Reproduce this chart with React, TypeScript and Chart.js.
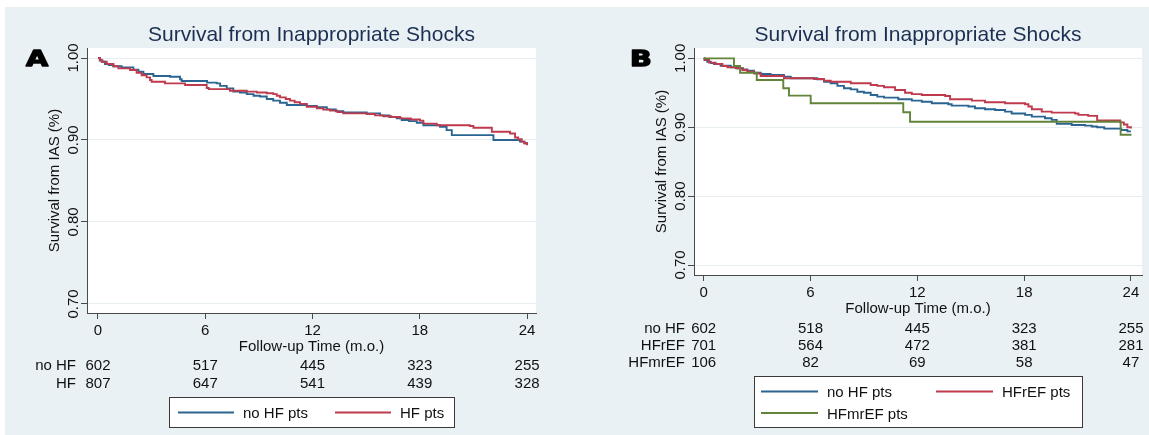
import React, { useEffect, useRef } from "react";
import { Chart, registerables } from "chart.js";

Chart.register(...registerables);

// ---------- data ----------
const monthTicks = [0, 6, 12, 18, 24];
const survivalTicks = [0.7, 0.8, 0.9, 1.0];
const chartTitle = "Survival from Inappropriate Shocks";
const xAxisTitle = "Follow-up Time (m.o.)";
const yAxisTitle = "Survival from IAS (%)";

// Panel A: [months, survival]
const aNoHfCurve: [number, number][] = [
  [0, 1], [0.1, 0.997], [0.25, 0.9955], [0.39, 0.9927], [0.6, 0.9915], [0.86, 0.99],
  [1.32, 0.9886], [1.98, 0.9858], [2.26, 0.9833], [2.54, 0.9805], [3.1, 0.978],
  [4.03, 0.9772], [4.59, 0.974], [4.68, 0.972], [6.1, 0.970], [6.64, 0.969],
  [6.83, 0.966], [7.2, 0.963], [7.57, 0.959], [7.94, 0.958], [8.32, 0.956],
  [8.7, 0.954], [9.06, 0.953], [9.44, 0.95], [9.8, 0.948], [10.18, 0.9455],
  [10.56, 0.9427], [11.68, 0.9415], [12.24, 0.94], [12.8, 0.9374], [13.3, 0.935],
  [13.72, 0.9337], [15.03, 0.9325], [15.78, 0.93], [16.3, 0.928], [16.71, 0.9264],
  [16.99, 0.9244], [17.4, 0.923], [17.83, 0.921], [18.2, 0.918], [19.13, 0.916],
  [19.5, 0.912], [19.79, 0.906], [22.12, 0.9], [23.6, 0.898], [23.85, 0.896],
  [24.0, 0.894],
];
const aHfCurve: [number, number][] = [
  [0, 1], [0.1, 0.998], [0.2, 0.9955], [0.49, 0.9927], [0.86, 0.99], [1.14, 0.9874],
  [1.79, 0.9854], [2.16, 0.982], [2.44, 0.979], [2.72, 0.9764], [2.91, 0.9732],
  [3.0, 0.971], [3.75, 0.969], [4.87, 0.967], [6.08, 0.9635], [6.2, 0.962],
  [7.38, 0.96], [8.32, 0.959], [8.88, 0.958], [9.44, 0.957], [9.81, 0.956],
  [10.0, 0.954], [10.18, 0.952], [10.5, 0.95], [10.74, 0.948], [11.0, 0.946],
  [11.3, 0.944], [11.68, 0.9406], [12.24, 0.9386], [12.6, 0.937], [12.98, 0.9358],
  [13.4, 0.934], [13.72, 0.9325], [15.03, 0.9317], [15.5, 0.93], [15.96, 0.929],
  [16.4, 0.928], [16.9, 0.9264], [17.5, 0.925], [18.01, 0.9236], [18.2, 0.92],
  [18.95, 0.918], [20.8, 0.917], [21.0, 0.915], [22.03, 0.91], [23.05, 0.908],
  [23.33, 0.903], [23.5, 0.901], [23.7, 0.898], [23.85, 0.896], [24.0, 0.8935],
];

// Panel B
const bNoHfCurve: [number, number][] = [
  [0, 1], [0.05, 0.9975], [0.2, 0.9951], [0.4, 0.993], [0.58, 0.9917], [0.95, 0.9893],
  [1.52, 0.987], [1.89, 0.9855], [2.2, 0.984], [2.45, 0.982], [2.83, 0.979],
  [3.2, 0.9773], [3.76, 0.9758], [4.51, 0.9734], [4.89, 0.971], [6.38, 0.9695],
  [6.76, 0.966], [7.13, 0.9638], [7.51, 0.96], [7.88, 0.9565], [8.26, 0.955],
  [8.63, 0.9516], [9.0, 0.95], [9.38, 0.9468], [9.75, 0.9444], [10.13, 0.943],
  [10.93, 0.9405], [11.69, 0.9386], [12.25, 0.937], [12.81, 0.9348], [13.74, 0.9333],
  [13.93, 0.9313], [14.87, 0.93], [15.24, 0.9275], [15.8, 0.926], [16.37, 0.925],
  [16.93, 0.9226], [17.3, 0.92], [18.05, 0.918], [18.43, 0.9154], [19.17, 0.913],
  [19.55, 0.9106], [19.83, 0.9048], [20.67, 0.9033], [21.42, 0.9023], [21.8, 0.901],
  [22.1, 0.9], [22.5, 0.898], [23.45, 0.896], [23.8, 0.894], [24.0, 0.894],
];
const bHfrefCurve: [number, number][] = [
  [0, 1], [0.05, 0.998], [0.3, 0.9937], [0.67, 0.9917], [1.05, 0.9888], [1.33, 0.987],
  [1.8, 0.9855], [2.17, 0.983], [2.45, 0.9806], [2.83, 0.978], [3.2, 0.9743],
  [4.51, 0.971], [6.2, 0.97], [6.76, 0.9675], [7.13, 0.966], [8.26, 0.9638],
  [9.38, 0.9613], [9.75, 0.96], [10.13, 0.958], [10.75, 0.954], [11.31, 0.95],
  [11.69, 0.948], [12.25, 0.9468], [13.56, 0.9454], [13.84, 0.9405], [15.06, 0.9386],
  [15.8, 0.9362], [16.93, 0.9348], [18.05, 0.9333], [18.24, 0.93], [18.43, 0.926],
  [18.99, 0.9226], [19.55, 0.9212], [20.86, 0.92], [21.05, 0.918], [21.6, 0.9165],
  [22.1, 0.91], [23.4, 0.907], [23.6, 0.904], [23.8, 0.9], [24.0, 0.898],
];
const bHfmrefCurve: [number, number][] = [
  [0, 1], [1.7, 0.9888], [2.04, 0.9791], [2.98, 0.9686], [4.47, 0.9565],
  [4.79, 0.9458], [6.01, 0.9348], [11.21, 0.9217], [11.59, 0.908], [23.42, 0.889],
  [24.03, 0.889],
];

// Numbers at risk
const aRiskLabels = ["no HF", "HF"];
const aRiskNoHf = [602, 517, 445, 323, 255];
const aRiskHf = [807, 647, 541, 439, 328];
const bRiskLabels = ["no HF", "HFrEF", "HFmrEF"];
const bRiskNoHf = [602, 518, 445, 323, 255];
const bRiskHfref = [701, 564, 472, 381, 281];
const bRiskHfmref = [106, 82, 69, 58, 47];

const aLegendLabels = ["no HF pts", "HF pts"];
const bLegendLabels = ["no HF pts", "HFrEF pts", "HFmrEF pts"];

// ---------- styles ----------
const BG = "#e9f1f4";
const TITLE_COLOR = "#1c2f52";
const TEXT = "#111111";
const AXIS = "#4a4a4a";
const GRID = "#e6eef1";
const BLUE = "#2a6592";
const RED = "#be3a4c";
const GREEN = "#62843a";
const FONT = '"Liberation Sans", Arial, Helvetica, sans-serif';

type Item = { lineX: number; lineW: number; y: number; textX: number; textY: number };
type Panel = {
  left: number; width: number; bgLeft: number;
  plotLeft: number; plotRight: number; plotTop: number; plotBottom: number;
  xMin: number; xMax: number; yMin: number; yMax: number;
  letter: string; letterX: number;
  riskLabelX: number; riskBaselines: number[];
  riskLabels: string[]; riskRows: number[][];
  legendBox: { x: number; y: number; w: number; h: number };
  legendItems: Item[]; legendLabels: string[]; colors: string[];
  curves: [number, number][][];
};

const panels: Panel[] = [
  {
    left: 0, width: 555, bgLeft: 5,
    plotLeft: 87, plotRight: 536, plotTop: 48, plotBottom: 313,
    xMin: -0.615, xMax: 24.5, yMin: 0.689, yMax: 1.0122,
    letter: "A", letterX: 26,
    riskLabelX: 76, riskBaselines: [369.5, 388],
    riskLabels: aRiskLabels, riskRows: [aRiskNoHf, aRiskHf],
    legendBox: { x: 169.5, y: 397.5, w: 285, h: 30 },
    legendItems: [
      { lineX: 178, lineW: 56, y: 412.5, textX: 243, textY: 418 },
      { lineX: 335, lineW: 56, y: 412.5, textX: 400, textY: 418 },
    ],
    legendLabels: aLegendLabels, colors: [BLUE, RED],
    curves: [aNoHfCurve, aHfCurve],
  },
  {
    left: 555, width: 594, bgLeft: 0,
    plotLeft: 139, plotRight: 587, plotTop: 48, plotBottom: 275,
    xMin: -0.545, xMax: 24.62, yMin: 0.6855, yMax: 1.015,
    letter: "B", letterX: 75,
    riskLabelX: 130, riskBaselines: [332.7, 349.9, 367],
    riskLabels: bRiskLabels, riskRows: [bRiskNoHf, bRiskHfref, bRiskHfmref],
    legendBox: { x: 199.5, y: 376.5, w: 328, h: 51 },
    legendItems: [
      { lineX: 206, lineW: 57, y: 391.5, textX: 272, textY: 397 },
      { lineX: 381, lineW: 57, y: 391.5, textX: 447, textY: 397 },
      { lineX: 206, lineW: 57, y: 413, textX: 272, textY: 418.5 },
    ],
    legendLabels: bLegendLabels, colors: [BLUE, RED, GREEN],
    curves: [bNoHfCurve, bHfrefCurve, bHfmrefCurve],
  },
];

function makeDecor(p: Panel) {
  return {
    id: "decor" + p.letter,
    beforeDraw(chart: any) {
      const { ctx, width, height, chartArea: ca } = chart;
      ctx.save();
      ctx.fillStyle = "#ffffff";
      ctx.fillRect(0, 0, width, height);
      ctx.fillStyle = BG;
      ctx.fillRect(p.bgLeft, 7, width - p.bgLeft, height - 7);
      ctx.fillStyle = "#ffffff";
      ctx.fillRect(ca.left, ca.top, ca.right - ca.left, ca.bottom - ca.top);
      ctx.restore();
    },
    afterDraw(chart: any) {
      const { ctx, chartArea: ca } = chart;
      const xs = chart.scales.x;
      const ys = chart.scales.y;
      const cx = (ca.left + ca.right) / 2;
      const cy = (ca.top + ca.bottom) / 2;
      ctx.save();
      ctx.textBaseline = "alphabetic";

      // title
      ctx.font = "21px " + FONT;
      ctx.fillStyle = TITLE_COLOR;
      ctx.textAlign = "center";
      ctx.fillText(chartTitle, cx, 40.5);

      // panel letter
      ctx.save();
      ctx.translate(p.letterX, 66);
      ctx.scale(1.3, 1);
      ctx.font = 'bold 22px "DejaVu Sans", sans-serif';
      ctx.fillStyle = "#000";
      ctx.strokeStyle = "#000";
      ctx.lineWidth = 1.4;
      ctx.lineJoin = "round";
      ctx.textAlign = "left";
      ctx.fillText(p.letter, 0, 0);
      ctx.strokeText(p.letter, 0, 0);
      ctx.restore();

      ctx.fillStyle = TEXT;
      // y tick labels (rotated)
      ctx.font = "15px " + FONT;
      survivalTicks.forEach((v) => {
        const y = ys.getPixelForValue(v);
        ctx.save();
        ctx.translate(ca.left - 9, y);
        ctx.rotate(-Math.PI / 2);
        ctx.textAlign = "center";
        ctx.fillText(v.toFixed(2), 0, 0);
        ctx.restore();
      });
      // y title
      ctx.save();
      ctx.translate(ca.left - 28, cy);
      ctx.rotate(-Math.PI / 2);
      ctx.textAlign = "center";
      ctx.fillText(yAxisTitle, 0, 0);
      ctx.restore();

      // x ticks
      ctx.textAlign = "center";
      monthTicks.forEach((t) => {
        ctx.fillText(String(t), xs.getPixelForValue(t), ca.bottom + 22);
      });
      ctx.fillText(xAxisTitle, cx, ca.bottom + 38);

      // risk table
      p.riskRows.forEach((row, i) => {
        const yb = p.riskBaselines[i];
        ctx.textAlign = "right";
        ctx.fillText(p.riskLabels[i], p.riskLabelX, yb);
        ctx.textAlign = "center";
        row.forEach((n, j) => {
          ctx.fillText(String(n), xs.getPixelForValue(monthTicks[j]), yb);
        });
      });

      // legend
      const lb = p.legendBox;
      ctx.fillStyle = "#ffffff";
      ctx.fillRect(lb.x, lb.y, lb.w, lb.h);
      ctx.strokeStyle = "#3a3a3a";
      ctx.lineWidth = 1;
      ctx.strokeRect(lb.x, lb.y, lb.w, lb.h);
      p.legendItems.forEach((it, i) => {
        ctx.strokeStyle = p.colors[i];
        ctx.lineWidth = 1.8;
        ctx.beginPath();
        ctx.moveTo(it.lineX, it.y);
        ctx.lineTo(it.lineX + it.lineW, it.y);
        ctx.stroke();
        ctx.fillStyle = TEXT;
        ctx.textAlign = "left";
        ctx.fillText(p.legendLabels[i], it.textX, it.textY);
      });
      ctx.restore();
    },
  };
}

function PanelChart({ p }: { p: Panel }) {
  const ref = useRef<HTMLCanvasElement | null>(null);
  useEffect(() => {
    if (!ref.current) return;
    const datasets = p.curves.map((c, i) => ({
      label: p.legendLabels[i],
      data: c.map(([x, y]) => ({ x, y })),
      borderColor: p.colors[i],
      backgroundColor: p.colors[i],
      borderWidth: 1.9,
      pointRadius: 0,
      stepped: true as const,
      fill: false,
      order: p.curves.length - i,
    }));
    const chart = new Chart(ref.current, {
      type: "line",
      data: { datasets },
      plugins: [makeDecor(p)],
      options: {
        animation: false,
        responsive: true,
        maintainAspectRatio: false,
        devicePixelRatio: 1,
        events: [],
        layout: {
          padding: { left: 0, top: p.plotTop, right: p.width - p.plotRight, bottom: 0 },
        },
        plugins: { legend: { display: false }, tooltip: { enabled: false }, title: { display: false } },
        scales: {
          x: {
            type: "linear",
            min: p.xMin,
            max: p.xMax,
            afterBuildTicks: (s: any) => {
              s.ticks = monthTicks.map((v) => ({ value: v }));
            },
            afterFit: (s: any) => {
              s.height = 435 - p.plotBottom;
            },
            ticks: { display: false },
            grid: { drawOnChartArea: false, drawTicks: true, tickLength: 6, tickColor: AXIS, tickWidth: 1 },
            border: { display: true, color: AXIS, width: 1 },
          },
          y: {
            type: "linear",
            min: p.yMin,
            max: p.yMax,
            afterBuildTicks: (s: any) => {
              s.ticks = survivalTicks.map((v) => ({ value: v }));
            },
            afterFit: (s: any) => {
              s.width = p.plotLeft;
            },
            ticks: { display: false },
            grid: { drawOnChartArea: true, color: GRID, lineWidth: 1, drawTicks: true, tickLength: 6, tickColor: AXIS, tickWidth: 1 },
            border: { display: true, color: AXIS, width: 1 },
          },
        },
      } as any,
    });
    return () => chart.destroy();
  }, [p]);
  return (
    <div style={{ position: "absolute", left: p.left, top: 0, width: p.width, height: 435 }}>
      <canvas ref={ref} />
    </div>
  );
}

export default function App() {
  return (
    <div style={{ position: "fixed", left: 0, top: 0, width: 1149, height: 435, background: "#fff", overflow: "hidden" }}>
      {panels.map((p) => (
        <PanelChart key={p.letter} p={p} />
      ))}
    </div>
  );
}
